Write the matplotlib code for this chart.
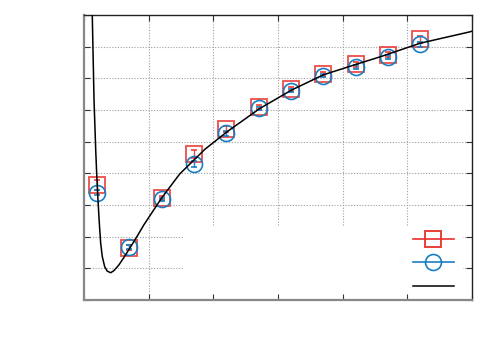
import matplotlib
matplotlib.use("Agg")
import matplotlib.pyplot as plt
from matplotlib.patches import Rectangle
from matplotlib.lines import Line2D

# ---- data ----
x_vals = [0.2, 0.7, 1.2, 1.7, 2.2, 2.7, 3.2, 3.7, 4.2, 4.7, 5.2]
red_y = [3.63, 1.65, 3.21, 4.61, 5.39, 6.10, 6.66, 7.14, 7.45, 7.74, 8.23]
red_err = [0.15, 0.08, 0.06, 0.12, 0.10, 0.06, 0.06, 0.06, 0.08, 0.08, 0.10]
blue_y = [3.39, 1.68, 3.18, 4.29, 5.26, 6.05, 6.61, 7.08, 7.37, 7.68, 8.08]
blue_err = [0.08, 0.06, 0.05, 0.10, 0.08, 0.05, 0.05, 0.05, 0.06, 0.06, 0.08]
curve_x = [0.128, 0.155, 0.181, 0.196, 0.216, 0.237, 0.258, 0.283, 0.320, 0.360,
           0.413, 0.464, 0.541, 0.619, 0.722, 0.824, 0.928, 1.20, 1.48, 1.70,
           1.87, 2.21, 2.72, 3.21, 3.70, 4.22, 4.58, 5.20, 5.97, 6.0]
curve_y = [9.0, 6.32, 4.74, 4.00, 3.16, 2.42, 1.79, 1.37, 1.05, 0.91,
           0.86, 0.93, 1.11, 1.35, 1.68, 2.02, 2.38, 3.22, 3.98, 4.42,
           4.76, 5.31, 6.05, 6.63, 7.11, 7.45, 7.68, 8.11, 8.47, 8.49]
x_ticks = [0, 1, 2, 3, 4, 5, 6]
y_ticks = [0, 1, 2, 3, 4, 5, 6, 7, 8, 9]

RED = '#e8302a'
BLUE = '#1a7ec2'

fig = plt.figure(figsize=(5, 3.5), dpi=100)
ax = fig.add_axes([0.168, 0.1429, 0.776, 0.8142])
ax.set_xlim(0, 6)
ax.set_ylim(0, 9)
ax.set_xticks(x_ticks)
ax.set_yticks(y_ticks)
ax.set_xticklabels([])
ax.set_yticklabels([])
ax.tick_params(direction='in', length=4, width=0.8, top=True, right=True,
               color='#333333')

for t in x_ticks[1:-1]:
    ax.axvline(t, color='#a0a0a0', lw=0.8, ls=(0, (1, 1.5)), zorder=0.5)
for t in y_ticks[1:-1]:
    ax.axhline(t, color='#a0a0a0', lw=0.8, ls=(0, (1, 1.5)), zorder=0.5)

# key background (opaque box)
ax.add_patch(Rectangle((0.255, 0.0), 0.722, 0.256, transform=ax.transAxes,
                       facecolor='white', edgecolor='none', zorder=1))

for s in ['left', 'bottom']:
    ax.spines[s].set_color('#888888')
    ax.spines[s].set_linewidth(1.6)
for s in ['top', 'right']:
    ax.spines[s].set_color('#222222')
    ax.spines[s].set_linewidth(1.0)

h1 = ax.errorbar(x_vals, red_y, yerr=red_err, fmt='s', ms=11, mfc='none',
                 mec=RED, mew=1.3, ecolor=RED, elinewidth=1.0, capsize=2,
                 color=RED, alpha=0.85, zorder=3)
h2 = ax.errorbar(x_vals, blue_y, yerr=blue_err, fmt='o', ms=11.5, mfc='none',
                 mec=BLUE, mew=1.2, ecolor=BLUE, elinewidth=1.0, capsize=2,
                 color=BLUE, zorder=4)
h3, = ax.plot(curve_x, curve_y, color='black', lw=1.1, zorder=5)

hr = Line2D([], [], color=RED, lw=1.2, marker='s', ms=11, mfc='none', mec=RED, mew=1.3)
hb = Line2D([], [], color=BLUE, lw=1.2, marker='o', ms=11.5, mfc='none', mec=BLUE, mew=1.2)
leg = ax.legend([hr, hb, h3], ['', '', ''], loc='lower right',
                bbox_to_anchor=(0.967, 0.003), frameon=False, handlelength=2.95,
                handletextpad=0.0, labelspacing=0.68, borderaxespad=0.0)

fig.savefig('out.png', dpi=100)
